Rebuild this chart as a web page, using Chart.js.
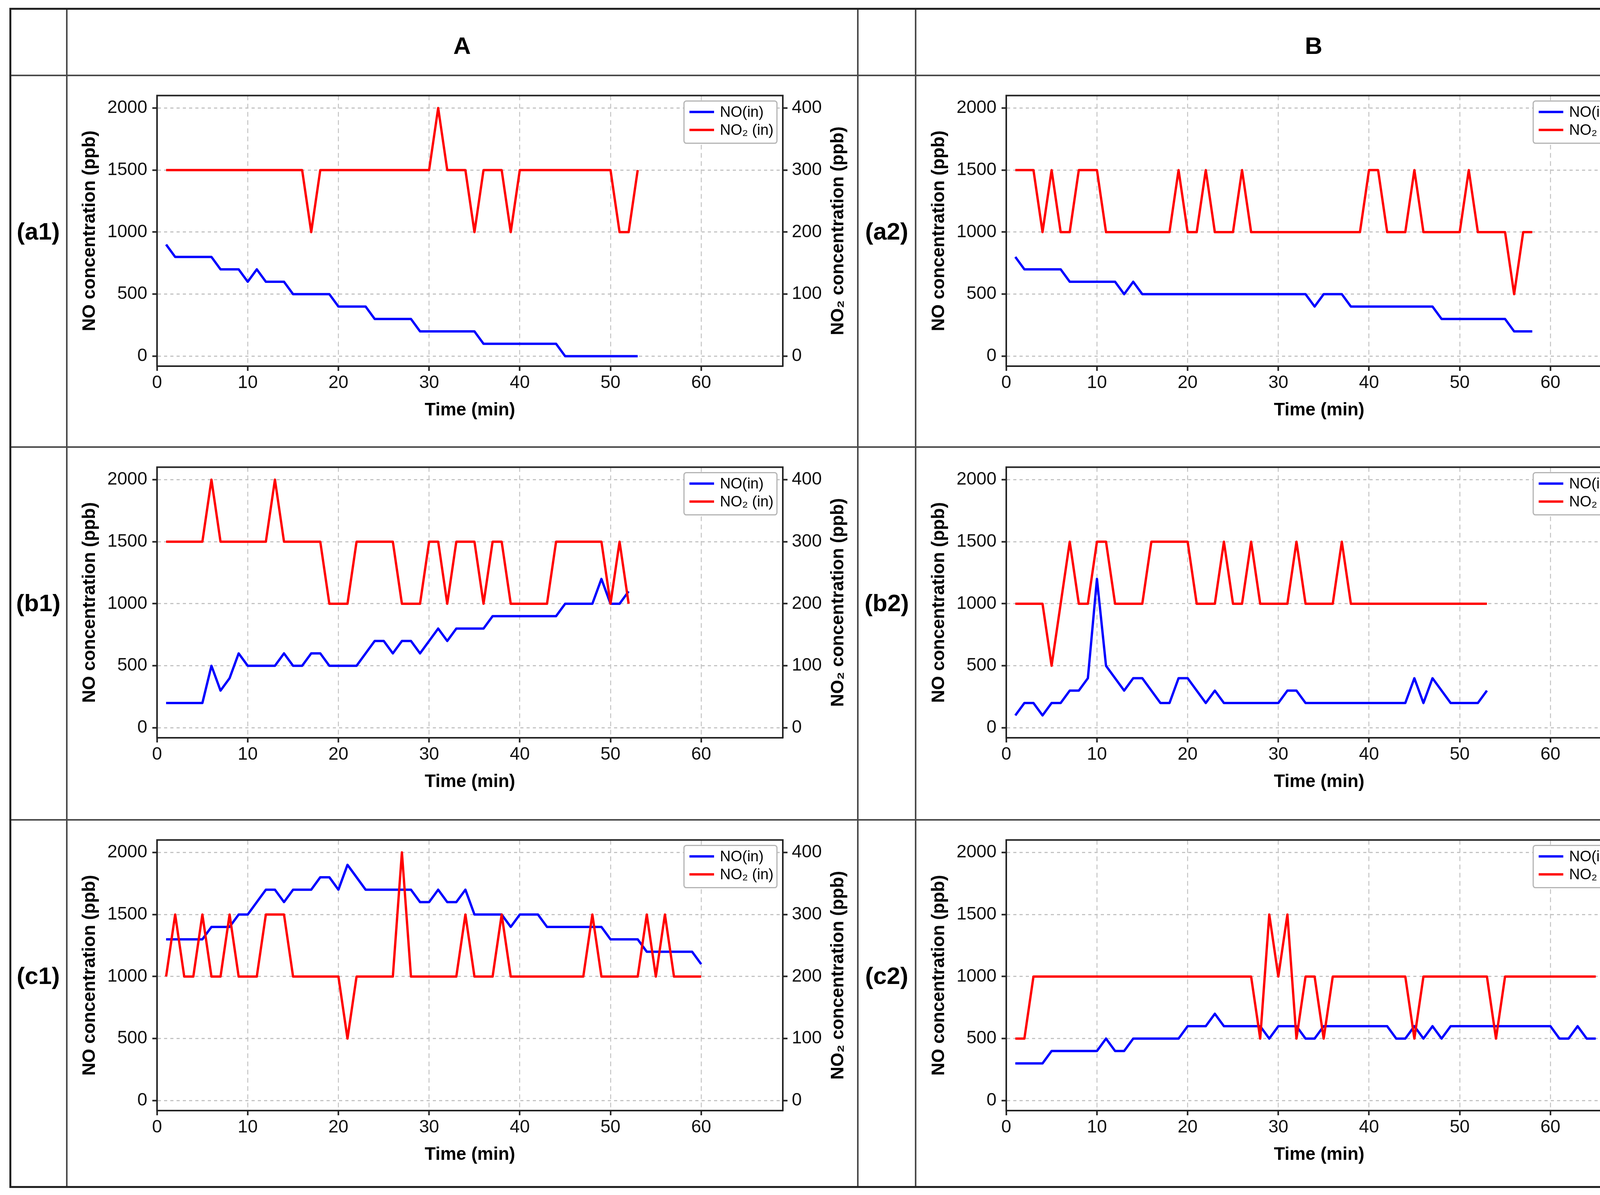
<!DOCTYPE html>
<html>
<head>
<meta charset="utf-8">
<title>NO / NO2 inlet concentration</title>
<script src="https://cdn.jsdelivr.net/npm/chart.js@4.4.1/dist/chart.umd.min.js"></script>
<style>
  html, body { margin: 0; padding: 0; background: #fff; }
  #page { position: relative; width: 4404px; height: 3058px; background: #fff; overflow: hidden;
          font-family: "Liberation Sans", Arial, sans-serif; }
  .rule { position: absolute; }
  .lbl { position: absolute; font-weight: bold; font-size: 62px; color: #000;
         transform: translate(-50%, -50%); white-space: nowrap; }
  .panel { position: absolute; }
</style>
</head>
<body>
<div id="page"></div>

<script>
  // one reading per minute, starting at minute 1
  const a1NO  = [900, 800, 800, 800, 800, 800, 700, 700, 700, 600, 700, 600, 600, 600, 500, 500, 500, 500, 500,
                 400, 400, 400, 400, 300, 300, 300, 300, 300, 200, 200, 200, 200, 200, 200, 200,
                 100, 100, 100, 100, 100, 100, 100, 100, 100, 0, 0, 0, 0, 0, 0, 0, 0, 0];
  const a1NO2 = [300, 300, 300, 300, 300, 300, 300, 300, 300, 300, 300, 300, 300, 300, 300, 300, 200,
                 300, 300, 300, 300, 300, 300, 300, 300, 300, 300, 300, 300, 300, 400, 300, 300, 300, 200,
                 300, 300, 300, 200, 300, 300, 300, 300, 300, 300, 300, 300, 300, 300, 300, 200, 200, 300];

  const a2NO  = [800, 700, 700, 700, 700, 700, 600, 600, 600, 600, 600, 600, 500, 600,
                 500, 500, 500, 500, 500, 500, 500, 500, 500, 500, 500, 500, 500, 500, 500, 500, 500, 500, 500,
                 400, 500, 500, 500, 400, 400, 400, 400, 400, 400, 400, 400, 400, 400,
                 300, 300, 300, 300, 300, 300, 300, 300, 200, 200, 200];
  const a2NO2 = [300, 300, 300, 200, 300, 200, 200, 300, 300, 300, 200, 200, 200, 200, 200, 200, 200, 200,
                 300, 200, 200, 300, 200, 200, 200, 300, 200, 200, 200, 200, 200, 200, 200, 200, 200, 200, 200, 200, 200,
                 300, 300, 200, 200, 200, 300, 200, 200, 200, 200, 200, 300, 200, 200, 200, 200, 100, 200, 200];

  const b1NO  = [200, 200, 200, 200, 200, 500, 300, 400, 600, 500, 500, 500, 500, 600, 500, 500, 600, 600,
                 500, 500, 500, 500, 600, 700, 700, 600, 700, 700, 600, 700, 800, 700, 800, 800, 800, 800,
                 900, 900, 900, 900, 900, 900, 900, 900, 1000, 1000, 1000, 1000, 1200, 1000, 1000, 1100];
  const b1NO2 = [300, 300, 300, 300, 300, 400, 300, 300, 300, 300, 300, 300, 400, 300, 300, 300, 300, 300,
                 200, 200, 200, 300, 300, 300, 300, 300, 200, 200, 200, 300, 300, 200, 300, 300, 300, 200,
                 300, 300, 200, 200, 200, 200, 200, 300, 300, 300, 300, 300, 300, 200, 300, 200];

  const b2NO  = [100, 200, 200, 100, 200, 200, 300, 300, 400, 1200, 500, 400, 300, 400, 400, 300, 200, 200,
                 400, 400, 300, 200, 300, 200, 200, 200, 200, 200, 200, 200, 300, 300,
                 200, 200, 200, 200, 200, 200, 200, 200, 200, 200, 200, 200, 400, 200, 400, 300,
                 200, 200, 200, 200, 300];
  const b2NO2 = [200, 200, 200, 200, 100, 200, 300, 200, 200, 300, 300, 200, 200, 200, 200, 300, 300, 300,
                 300, 300, 200, 200, 200, 300, 200, 200, 300, 200, 200, 200, 200, 300, 200, 200, 200, 200,
                 300, 200, 200, 200, 200, 200, 200, 200, 200, 200, 200, 200, 200, 200, 200, 200, 200];

  const c1NO  = [1300, 1300, 1300, 1300, 1300, 1400, 1400, 1400, 1500, 1500, 1600, 1700, 1700, 1600, 1700,
                 1700, 1700, 1800, 1800, 1700, 1900, 1800, 1700, 1700, 1700, 1700, 1700, 1700, 1600, 1600,
                 1700, 1600, 1600, 1700, 1500, 1500, 1500, 1500, 1400, 1500, 1500, 1500, 1400, 1400, 1400,
                 1400, 1400, 1400, 1400, 1300, 1300, 1300, 1300, 1200, 1200, 1200, 1200, 1200, 1200, 1100];
  const c1NO2 = [200, 300, 200, 200, 300, 200, 200, 300, 200, 200, 200, 300, 300, 300, 200, 200, 200, 200,
                 200, 200, 100, 200, 200, 200, 200, 200, 400, 200, 200, 200, 200, 200, 200, 300, 200, 200,
                 200, 300, 200, 200, 200, 200, 200, 200, 200, 200, 200, 300, 200, 200, 200, 200, 200, 300,
                 200, 300, 200, 200, 200, 200];

  const c2NO  = [300, 300, 300, 300, 400, 400, 400, 400, 400, 400, 500, 400, 400, 500, 500, 500, 500, 500,
                 500, 600, 600, 600, 700, 600, 600, 600, 600, 600, 500, 600, 600, 600, 500, 500,
                 600, 600, 600, 600, 600, 600, 600, 600, 500, 500, 600, 500, 600, 500,
                 600, 600, 600, 600, 600, 600, 600, 600, 600, 600, 600, 600, 500, 500, 600, 500, 500];
  const c2NO2 = [100, 100, 200, 200, 200, 200, 200, 200, 200, 200, 200, 200, 200, 200, 200, 200, 200, 200,
                 200, 200, 200, 200, 200, 200, 200, 200, 200, 100, 300, 200, 300, 100, 200, 200, 100,
                 200, 200, 200, 200, 200, 200, 200, 200, 200, 100, 200, 200, 200, 200, 200, 200, 200, 200,
                 100, 200, 200, 200, 200, 200, 200, 200, 200, 200, 200, 200];

  const rowLabels = [["(a1)", "(a2)"], ["(b1)", "(b2)"], ["(c1)", "(c2)"]];
  const colHeads  = ["A", "B"];
  const timeTicks = [0, 10, 20, 30, 40, 50, 60];
  const noTicks   = [0, 500, 1000, 1500, 2000];
  const no2Ticks  = [0, 100, 200, 300, 400];
  const timeRange = [0, 69];
  const noRange   = [-80, 2100];
  const no2Range  = [-16, 420];

  const panels = [
    { row: 0, col: 0, no: a1NO, no2: a1NO2 },
    { row: 0, col: 1, no: a2NO, no2: a2NO2 },
    { row: 1, col: 0, no: b1NO, no2: b1NO2 },
    { row: 1, col: 1, no: b2NO, no2: b2NO2 },
    { row: 2, col: 0, no: c1NO, no2: c1NO2 },
    { row: 2, col: 1, no: c2NO, no2: c2NO2 },
  ];

  // page geometry
  const PLOT_LEFT = [402, 2576];
  const PLOT_TOP = [244, 1195, 2149];
  const PLOT_W = 1602, PLOT_H = 693;
  const LEFT_W = 222, RIGHT_W = 186, XAXIS_H = 150, PAD_TOP = 40;
  const LABEL_CX = [98, 2270];
  const HEAD_CX = [1183, 3363];

  const FONT = '"Liberation Sans", Arial, sans-serif';
  const page = document.getElementById('page');

  function rule(x, y, w, h, color) {
    const d = document.createElement('div');
    d.className = 'rule';
    d.style.cssText = `left:${x}px;top:${y}px;width:${w}px;height:${h}px;background:${color}`;
    page.appendChild(d);
  }

  // table frame
  [193, 1144, 2098].forEach(y => rule(26, y - 2, 4356, 4, '#4a4a4a'));
  [171, 2196, 2344].forEach(x => rule(x - 2, 22, 4, 3015, '#4a4a4a'));
  rule(24, 20, 4360, 5, '#222');
  rule(24, 3035, 4360, 5, '#222');
  rule(24, 20, 5, 3020, '#222');
  rule(4380, 20, 5, 3020, '#222');

  function text(str, cx, cy) {
    const d = document.createElement('div');
    d.className = 'lbl';
    d.textContent = str;
    d.style.left = cx + 'px';
    d.style.top = cy + 'px';
    page.appendChild(d);
  }
  colHeads.forEach((h, i) => text(h, HEAD_CX[i], 116));
  rowLabels.forEach((r, ri) => r.forEach((l, ci) => text(l, LABEL_CX[ci], PLOT_TOP[ri] + PLOT_H / 2)));

  function toPoints(arr) {
    return arr.map((v, i) => ({ x: i + 1, y: v }));
  }

  function fixedTicks(values) {
    return s => { s.ticks = values.map(v => ({ value: v })); };
  }

  // top spine, boxed legend inside the plot and the right-hand axis title
  const panelDecor = {
    id: 'panelDecor',
    afterDatasetsDraw(chart, args, opts) {
      const { ctx, chartArea: a } = chart;
      ctx.save();
      ctx.strokeStyle = '#222';
      ctx.lineWidth = 4;
      ctx.beginPath();
      ctx.moveTo(a.left - 2, a.top);
      ctx.lineTo(a.right + 2, a.top);
      ctx.stroke();

      const bw = 238, bh = 108;
      const bx = a.right - 15 - bw, by = a.top + 14;
      ctx.fillStyle = '#fff';
      ctx.strokeStyle = '#b4b4b4';
      ctx.lineWidth = 3;
      ctx.beginPath();
      ctx.roundRect(bx, by, bw, bh, 6);
      ctx.fill();
      ctx.stroke();
      ctx.font = '38px ' + FONT;
      ctx.textBaseline = 'middle';
      ctx.textAlign = 'left';
      chart.data.datasets.forEach((ds, i) => {
        const yy = by + 28 + i * 46;
        ctx.strokeStyle = ds.borderColor;
        ctx.lineWidth = 6;
        ctx.beginPath();
        ctx.moveTo(bx + 14, yy);
        ctx.lineTo(bx + 77, yy);
        ctx.stroke();
        ctx.fillStyle = '#000';
        ctx.fillText(ds.label, bx + 92, yy + 2);
      });

      ctx.translate(a.right + 142, (a.top + a.bottom) / 2);
      ctx.rotate(-Math.PI / 2);
      ctx.font = 'bold 46px ' + FONT;
      ctx.textAlign = 'center';
      ctx.fillStyle = '#000';
      ctx.fillText(opts.rightTitle, 0, 0);
      ctx.restore();
    }
  };

  const tickFont = { family: FONT, size: 46 };
  const titleFont = { family: FONT, size: 46, weight: 'bold' };
  const plain = v => String(v);

  panels.forEach(p => {
    const box = document.createElement('div');
    box.className = 'panel';
    box.style.left = (PLOT_LEFT[p.col] - LEFT_W) + 'px';
    box.style.top = (PLOT_TOP[p.row] - PAD_TOP) + 'px';
    box.style.width = (LEFT_W + PLOT_W + RIGHT_W) + 'px';
    box.style.height = (PAD_TOP + PLOT_H + XAXIS_H) + 'px';
    const canvas = document.createElement('canvas');
    box.appendChild(canvas);
    page.appendChild(box);

    new Chart(canvas, {
      type: 'line',
      data: {
        datasets: [
          { label: 'NO(in)', data: toPoints(p.no), yAxisID: 'y', borderColor: '#0000ff', order: 1 },
          { label: 'NO\u2082 (in)', data: toPoints(p.no2), yAxisID: 'y2', borderColor: '#ff0000', order: 0 },
        ],
      },
      plugins: [panelDecor],
      options: {
        responsive: true,
        maintainAspectRatio: false,
        animation: false,
        layout: { padding: { top: PAD_TOP, left: 0, right: 0, bottom: 0 } },
        elements: {
          point: { radius: 0 },
          line: { borderWidth: 6, tension: 0, borderJoinStyle: 'round', fill: false },
        },
        plugins: {
          legend: { display: false },
          tooltip: { enabled: false },
          panelDecor: { rightTitle: 'NO\u2082 concentration (ppb)' },
        },
        scales: {
          x: {
            type: 'linear',
            position: 'bottom',
            min: timeRange[0],
            max: timeRange[1],
            afterBuildTicks: fixedTicks(timeTicks),
            afterFit: s => { s.height = XAXIS_H; },
            ticks: { padding: 4, color: '#111', font: tickFont, callback: plain },
            grid: { color: '#c4c4c4', lineWidth: 2.5, tickColor: '#222', tickWidth: 4, tickLength: 12 },
            border: { color: '#222', width: 4, dash: [12, 9] },
            title: { display: true, text: 'Time (min)', color: '#000', font: titleFont, padding: { top: 0, bottom: 9 } },
          },
          y: {
            position: 'left',
            min: noRange[0],
            max: noRange[1],
            afterBuildTicks: fixedTicks(noTicks),
            afterFit: s => { s.width = LEFT_W; },
            ticks: { padding: 13, color: '#111', font: tickFont, callback: plain },
            grid: { color: '#c4c4c4', lineWidth: 3, tickColor: '#222', tickWidth: 4, tickLength: 12 },
            border: { color: '#222', width: 4, dash: [8, 8] },
            title: { display: true, text: 'NO concentration (ppb)', color: '#000', font: titleFont, padding: { top: 23, bottom: 0 } },
          },
          y2: {
            position: 'right',
            min: no2Range[0],
            max: no2Range[1],
            afterBuildTicks: fixedTicks(no2Ticks),
            afterFit: s => { s.width = RIGHT_W; },
            ticks: { padding: 11, color: '#111', font: tickFont, callback: plain },
            grid: { drawOnChartArea: false, tickColor: '#222', tickWidth: 4, tickLength: 12 },
            border: { color: '#222', width: 4 },
          },
        },
      },
    });
  });
</script>
</body>
</html>
